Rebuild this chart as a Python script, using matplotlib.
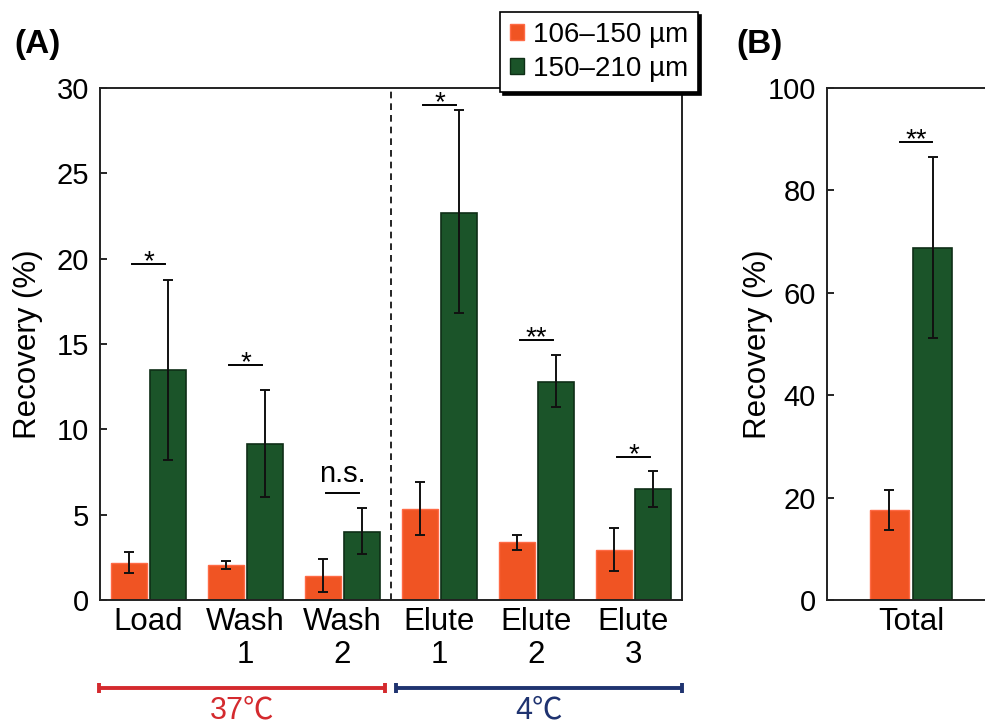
import matplotlib
matplotlib.use("Agg")
import matplotlib.pyplot as plt
import matplotlib.transforms as mtransforms
from matplotlib.patches import Patch
import numpy as np

plt.rcParams['font.family'] = ['Liberation Sans', 'DejaVu Sans']

# ---------------- data ----------------
categories = ["Load", "Wash\n1", "Wash\n2", "Elute\n1", "Elute\n2", "Elute\n3"]
series_names = ["106\u2013150 \u00b5m", "150\u2013210 \u00b5m"]
small_mean = [2.15, 2.03, 1.43, 5.35, 3.37, 2.91]
small_lo = [1.58, 1.84, 0.49, 3.83, 2.93, 1.71]
small_hi = [2.79, 2.27, 2.40, 6.92, 3.83, 4.22]
large_mean = [13.48, 9.16, 4.00, 22.70, 12.79, 6.48]
large_lo = [8.22, 6.05, 2.71, 16.80, 11.28, 5.47]
large_hi = [18.77, 12.32, 5.37, 28.69, 14.38, 7.54]
sig_labels = ["*", "*", "n.s.", "*", "**", "*"]
sig_heights = [19.7, 13.77, 6.27, 29.0, 15.25, 8.39]

total_cat = ["Total"]
total_small = [17.67]
total_small_lo = [13.6]
total_small_hi = [21.5]
total_large = [68.7]
total_large_lo = [51.2]
total_large_hi = [86.6]
total_sig = ["**"]
total_sig_h = [89.5]

temp_labels = ["37\u2103", "4\u2103"]
yticks_a = [0, 5, 10, 15, 20, 25, 30]
yticks_b = [0, 20, 40, 60, 80, 100]

# ---------------- style ----------------
c_small = "#F05423"
e_small = "#FF6A45"
c_large = "#1B5429"
e_large = "#0E2E16"
red = "#D42A2E"
blue = "#1F3370"

W, H = 985, 724
fig = plt.figure(figsize=(W / 100, H / 100), dpi=100)

def px_rect(l, r, t, b):
    return [l / W, 1 - b / H, (r - l) / W, (b - t) / H]

axA = fig.add_axes(px_rect(100, 682, 88, 600))
axB = fig.add_axes(px_rect(827, 985, 88, 600))

bw = 0.37
off = 0.205
ytick_fs = 21
xtick_fs = 22.5
label_fs = 22.5

def draw_bars(ax, x, m1, lo1, hi1, m2, lo2, hi2):
    x = np.asarray(x, float)
    m1 = np.asarray(m1); m2 = np.asarray(m2)
    e1 = [m1 - np.asarray(lo1), np.asarray(hi1) - m1]
    e2 = [m2 - np.asarray(lo2), np.asarray(hi2) - m2]
    ax.bar(x - off, m1, bw, color=c_small, edgecolor=e_small, linewidth=1.0, zorder=2)
    ax.bar(x + off, m2, bw, color=c_large, edgecolor=e_large, linewidth=1.2, zorder=2)
    ax.errorbar(x - off, m1, yerr=e1, fmt='none', ecolor='#111111', elinewidth=1.4,
                capsize=3.5, capthick=1.4, zorder=3)
    ax.errorbar(x + off, m2, yerr=e2, fmt='none', ecolor='#111111', elinewidth=1.4,
                capsize=3.5, capthick=1.4, zorder=3)

def draw_sig(ax, x, labels, heights, half):
    for xi, lab, h in zip(x, labels, heights):
        ax.plot([xi - half, xi + half], [h, h], color='black', lw=1.4, clip_on=False, zorder=4)
        if lab.startswith("*"):
            tr = mtransforms.offset_copy(ax.transData, fig=fig, x=0, y=-5, units='dots')
            ax.text(xi, h, lab, ha='center', va='baseline', fontsize=20,
                    transform=tr, clip_on=False)
        else:
            tr = mtransforms.offset_copy(ax.transData, fig=fig, x=0, y=11, units='dots')
            ax.text(xi, h, lab, ha='center', va='baseline', fontsize=21,
                    transform=tr, clip_on=False)

def style_axis(ax):
    for s in ax.spines.values():
        s.set_linewidth(1.4)
        s.set_color('#222222')
    ax.tick_params(axis='y', direction='in', length=5, width=1.2, labelsize=ytick_fs, pad=8)
    ax.tick_params(axis='x', length=0, labelsize=xtick_fs, pad=5)

# ---- Panel A ----
xa = np.arange(len(categories))
draw_bars(axA, xa, small_mean, small_lo, small_hi, large_mean, large_lo, large_hi)
draw_sig(axA, xa, sig_labels, sig_heights, 0.17)
axA.axvline(2.5, color='black', lw=1.2, ls=(0, (4, 3)), zorder=1)
axA.set_xlim(-0.5, 5.5)
axA.set_ylim(0, 30)
axA.set_yticks(yticks_a)
axA.set_xticks(xa)
axA.set_xticklabels(categories, linespacing=1.12)
style_axis(axA)
axA.set_ylabel("Recovery (%)", fontsize=label_fs)
axA.yaxis.set_label_coords(-0.098, 0.5)

# ---- Panel B ----
xb = np.arange(len(total_cat))
draw_bars(axB, xb, total_small, total_small_lo, total_small_hi,
          total_large, total_large_lo, total_large_hi)
draw_sig(axB, xb + 0.05, total_sig, total_sig_h, 0.15)
axB.set_xlim(-0.8, 0.705)
axB.set_ylim(0, 100)
axB.set_yticks(yticks_b)
axB.set_xticks(xb)
axB.set_xticklabels(total_cat)
style_axis(axB)
axB.spines['right'].set_visible(False)
axB.set_ylabel("Recovery (%)", fontsize=label_fs)
axB.yaxis.set_label_coords(-0.342, 0.5)

# ---- panel letters ----
fig.text(14 / W, 1 - 45 / H, "(A)", fontsize=24, fontweight='bold', va='center', ha='left')
fig.text(736 / W, 1 - 45 / H, "(B)", fontsize=24, fontweight='bold', va='center', ha='left')

# ---- temperature bars ----
blend = mtransforms.blended_transform_factory(axA.transData, fig.transFigure)
yl = 1 - 688 / H
segs = [(-0.51, 2.44, red), (2.55, 5.50, blue)]
for (x0, x1, col), lab in zip(segs, temp_labels):
    axA.plot([x0, x1], [yl, yl], color=col, lw=2.8, transform=blend, clip_on=False,
             solid_capstyle='butt')
    for xe in (x0, x1):
        axA.plot([xe, xe], [yl - 5 / H, yl + 5 / H], color=col, lw=2.8,
                 transform=blend, clip_on=False, solid_capstyle='butt')
    axA.text((x0 + x1) / 2, 1 - 718 / H, lab, color=col, fontsize=22, ha='center',
             va='baseline', transform=blend,
             family=['Liberation Sans', 'Noto Sans CJK JP', 'DejaVu Sans'])

# ---- legend ----
handles = [Patch(facecolor=c_small, edgecolor=e_small),
           Patch(facecolor=c_large, edgecolor=e_large)]
leg = fig.legend(handles, series_names, loc='upper left',
                 bbox_to_anchor=(500 / W, 1 - 12 / H), bbox_transform=fig.transFigure,
                 fontsize=20, frameon=True, fancybox=False, edgecolor='black',
                 framealpha=1, handlelength=0.5, handleheight=0.5, handletextpad=0.35,
                 labelspacing=0.3, borderpad=0.35, borderaxespad=0,
                 shadow={'facecolor': 'black', 'edgecolor': 'black', 'alpha': 1})
leg.get_frame().set_linewidth(1.2)
leg.set_zorder(10)

fig.savefig("out.png", dpi=100)
